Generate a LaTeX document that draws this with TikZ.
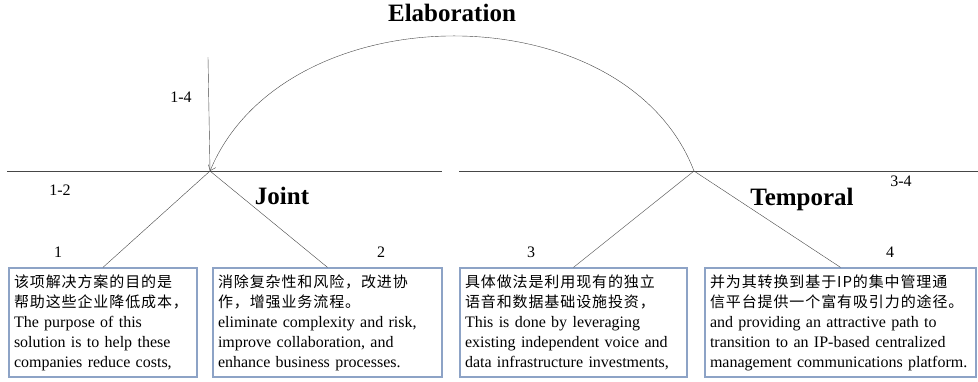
\documentclass[tikz,border=0pt]{standalone}
\usepackage{fontspec}
\setmainfont{Liberation Serif}
\newfontfamily\cjk[LetterSpace=6]{Noto Sans CJK SC}
\usepackage{tikz}
\usetikzlibrary{arrows.meta}
\newcommand{\zh}[1]{{\cjk\fontsize{15}{20}\selectfont #1}}
\definecolor{boxblue}{RGB}{141,163,198}
\definecolor{linegray}{RGB}{70,70,70}

\begin{document}
\begin{tikzpicture}[x=1pt, y=-1pt,
        txtbox/.style={draw=boxblue, line width=1.3pt, align=left, inner xsep=5pt, inner ysep=0pt,
                minimum height=109pt, text width=#1, font=\fontsize{16}{20}\selectfont},
        rel/.style={anchor=base, font=\fontsize{25}{28}\selectfont\bfseries},
        num/.style={anchor=base, font=\fontsize{16}{18}\selectfont}]
        \useasboundingbox (0,0) rectangle (978,381);

        \coordinate (j) at (210, 171);
        \coordinate (t) at (694, 171);
        \coordinate (l0) at (7, 171);
        \coordinate (l1) at (442, 171);
        \coordinate (r0) at (459, 171);
        \coordinate (r1) at (978, 171);
        \coordinate (v) at (208, 57);

        \node[rel] (elab) at (452, 21)     {Elaboration};
        \node[rel] (joint) at (282, 204)     {Joint};
        \node[rel] (temp) at (802, 205)     {Temporal};

        \node[num] (n14) at (181, 102)     {1-4};
        \node[num] (n12) at (60, 195)     {1-2};
        \node[num] (n34) at (901, 186)     {3-4};
        \node[num] (n1) at (58, 257)     {1};
        \node[num] (n2) at (381, 257)     {2};
        \node[num] (n3) at (531, 257)     {3};
        \node[num] (n4) at (890, 257)     {4};

        \node[txtbox=178pt] (b1) at (103, 322.5)     {\zh{该项解决方案的目的是}\\ \zh{帮助这些企业降低成本，}\\ The purpose of this\\ solution is to help these\\ companies reduce costs,};
        \node[txtbox=219pt] (b2) at (327.5, 322.5)     {\zh{消除复杂性和风险，改进协}\\ \zh{作，增强业务流程。}\\ eliminate complexity and risk,\\ improve collaboration, and\\ enhance business processes.};
        \node[txtbox=217pt] (b3) at (573.5, 322.5)     {\zh{具体做法是利用现有的独立}\\ \zh{语音和数据基础设施投资，}\\ This is done by leveraging\\ existing independent voice and\\ data infrastructure investments,};
        \node[txtbox=261pt] (b4) at (840.5, 322.5)     {\zh{并为其转换到基于IP的集中管理通}\\ \zh{信平台提供一个富有吸引力的途径。}\\ and providing an attractive path to\\ transition to an IP-based centralized\\ management communications platform.};

        %baselines
        \path[-, linegray] (l0) edge (l1);
        \path[-, linegray] (r0) edge (r1);
        \path[-, linegray] (v) edge (j);

        %joint
        \path[-, linegray] (j) edge (b1.north);
        \path[-, linegray] (j) edge (b2.north);

        %temporal
        \path[-, linegray] (t) edge (b3.north);
        \path[-, linegray] (t) edge (b4.north);

        \draw[-{Straight Barb[length=5pt, width=8pt]}, linegray] (t) .. controls (625, -9) and (285, -9) .. (j);
\end{tikzpicture}
\end{document}
